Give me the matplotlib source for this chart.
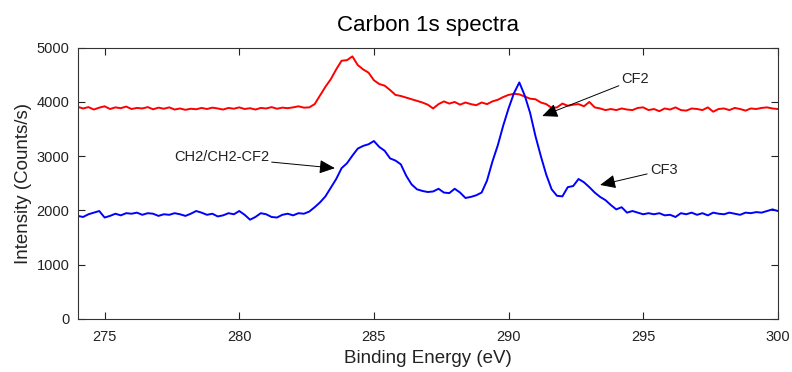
import numpy as np
import matplotlib
matplotlib.use('Agg')
import matplotlib.pyplot as plt

# Binding energy grid of the scan (eV), 0.2 eV step
binding_energy = np.round(np.arange(274.0, 300.01, 0.2), 1)

# Top trace (red), counts/s, rows of 2 eV
red_counts = [
    3910, 3880, 3905, 3860, 3895, 3920, 3870, 3900, 3885, 3915,
    3870, 3890, 3880, 3905, 3865, 3895, 3875, 3900, 3860, 3880,
    3855, 3875, 3865, 3890, 3870, 3895, 3880, 3860, 3890, 3875,
    3900, 3870, 3885, 3860, 3890, 3880, 3905, 3875, 3895, 3885,
    3900, 3920, 3895, 3900, 3960, 4120, 4280, 4420, 4600, 4760,
    4770, 4840, 4680, 4600, 4540, 4400, 4330, 4300, 4220, 4130,
    4110, 4080, 4050, 4020, 3990, 3950, 3880, 3960, 4010, 3970,
    4000, 3950, 3990, 3960, 3940, 3990, 3960, 4010, 4040, 4090,
    4130, 4150, 4140, 4100, 4060, 4050, 3990, 3960, 3890, 3900,
    3970, 3930, 3950, 3960, 3920, 4000, 3900, 3880, 3850, 3870,
    3850, 3880, 3860, 3850, 3890, 3900, 3850, 3870, 3830, 3880,
    3860, 3900, 3850, 3840, 3880, 3870, 3850, 3900, 3820, 3870,
    3880, 3850, 3890, 3870, 3840, 3880, 3870, 3890, 3900, 3880,
    3870,
]

# Bottom trace (blue)
blue_counts = [
    1900, 1880, 1930, 1960, 1990, 1870, 1900, 1940, 1910, 1950,
    1940, 1960, 1920, 1950, 1940, 1900, 1930, 1920, 1950, 1930,
    1900, 1940, 1990, 1960, 1920, 1940, 1890, 1910, 1950, 1930,
    1990, 1920, 1830, 1880, 1950, 1930, 1880, 1870, 1920, 1940,
    1910, 1950, 1940, 1980, 2060, 2150, 2260, 2420, 2580, 2780,
    2870, 3010, 3140, 3190, 3220, 3280, 3170, 3100, 2960, 2920,
    2850, 2640, 2480, 2390, 2360, 2340, 2350, 2400, 2330, 2320,
    2400, 2330, 2230, 2250, 2280, 2330, 2550, 2900, 3200, 3560,
    3880, 4160, 4360, 4120, 3800, 3370, 3000, 2660, 2390, 2270,
    2260, 2430, 2450, 2580, 2520, 2430, 2330, 2250, 2190, 2100,
    2020, 2060, 1960, 1990, 1960, 1930, 1950, 1930, 1950, 1910,
    1920, 1880, 1950, 1930, 1960, 1920, 1950, 1910, 1960, 1940,
    1930, 1960, 1940, 1920, 1960, 1950, 1970, 1960, 1990, 2020,
    1990,
]

x_ticks = [275, 280, 285, 290, 295, 300]
y_ticks = [0, 1000, 2000, 3000, 4000, 5000]

# Peak labels: text, where the text sits, where the arrow points
peak_labels = ['CH2/CH2-CF2', 'CF2', 'CF3']
label_pos = [(281.1, 2980), (294.2, 4420), (295.25, 2745)]
arrow_tip = [(283.55, 2780), (291.25, 3740), (293.4, 2470)]
label_align = ['right', 'left', 'left']

plt.rcParams['font.family'] = ['Liberation Sans', 'DejaVu Sans']

fig = plt.figure(figsize=(7.92, 3.72), dpi=100)
ax = fig.add_axes([0.0981, 0.1425, 0.884, 0.7293])

ax.plot(binding_energy, red_counts, color='#ff0000', lw=1.4)
ax.plot(binding_energy, blue_counts, color='#0000ff', lw=1.4)

for txt, pos, tip, ha in zip(peak_labels, label_pos, arrow_tip, label_align):
    ax.annotate(txt, xy=tip, xytext=pos, ha=ha, va='center', fontsize=10.5,
                color='#222222',
                arrowprops=dict(arrowstyle='-|>,head_length=0.9,head_width=0.4',
                                color='black', lw=0.7, shrinkA=0, shrinkB=0))

ax.set_xlim(274, 300)
ax.set_ylim(0, 5000)
ax.set_xticks(x_ticks)
ax.set_yticks(y_ticks)
ax.tick_params(direction='in', top=True, right=True, length=5, width=0.8,
               labelsize=10.5, colors='#222222')
ax.tick_params(axis='x', pad=8)
ax.tick_params(axis='y', pad=6)
for s in ax.spines.values():
    s.set_color('#333333')
    s.set_linewidth(0.8)

ax.set_title('Carbon 1s spectra', fontsize=16, pad=12)
ax.set_xlabel('Binding Energy (eV)', fontsize=13.5, labelpad=4, color='#222222')
ax.set_ylabel('Intensity (Counts/s)', fontsize=13.5, labelpad=3, color='#222222')

fig.savefig('out.png', dpi=100)
